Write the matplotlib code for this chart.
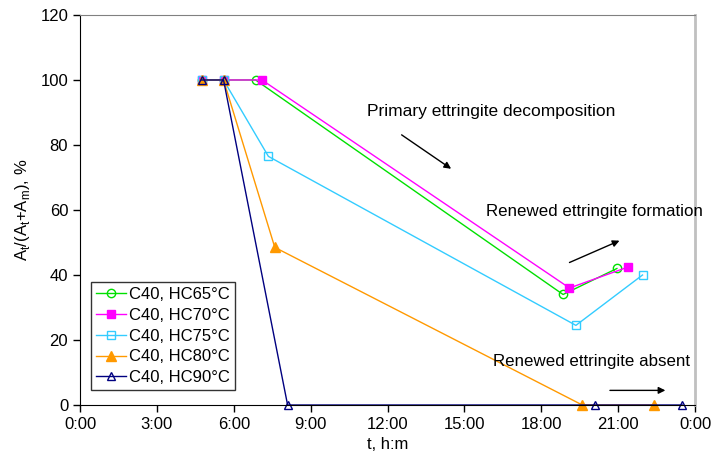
import matplotlib.pyplot as plt
from matplotlib.ticker import FuncFormatter, MultipleLocator

plt.rcParams['font.family'] = ['Liberation Sans', 'DejaVu Sans']

# time in hours, share of ettringite in %
t65 = [4.75, 5.6, 6.85, 18.85, 20.95]
y65 = [100, 100, 100, 34, 42]
t70 = [4.75, 5.6, 7.1, 19.1, 21.4]
y70 = [100, 100, 100, 36, 42.5]
t75 = [4.75, 5.6, 7.35, 19.35, 21.95]
y75 = [100, 100, 76.5, 24.5, 40]
t80 = [4.75, 5.6, 7.6, 19.6, 22.4]
y80 = [100, 100, 48.5, 0, 0]
t90 = [4.75, 5.6, 8.1, 20.1, 23.5]
y90 = [100, 100, 0, 0, 0]

labels = ['C40, HC65°C', 'C40, HC70°C', 'C40, HC75°C', 'C40, HC80°C', 'C40, HC90°C']


def hm(x, pos):
    h = int(round(x)) % 24
    return f'{h}:00'


fig = plt.figure(figsize=(7.12, 4.68), dpi=100)
ax = fig.add_axes([0.1124, 0.1346, 0.8638, 0.8334])

ax.plot(t65, y65, color='#00e000', lw=1, marker='o', ms=6, mfc='none', mec='#00e000', mew=1,
        clip_on=False, label=labels[0])
ax.plot(t70, y70, color='#ff00ff', lw=1, marker='s', ms=6, mfc='#ff00ff', mec='#ff00ff',
        clip_on=False, label=labels[1])
ax.plot(t75, y75, color='#33ccff', lw=1, marker='s', ms=6, mfc='none', mec='#33ccff', mew=1,
        clip_on=False, label=labels[2])
ax.plot(t80, y80, color='#ff9900', lw=1, marker='^', ms=7, mfc='#ff9900', mec='#ff9900',
        clip_on=False, label=labels[3])
ax.plot(t90, y90, color='#000080', lw=1, marker='^', ms=6, mfc='none', mec='#000080', mew=1,
        clip_on=False, label=labels[4])

ax.set_xlim(0, 24)
ax.set_ylim(0, 120)
ax.xaxis.set_major_locator(MultipleLocator(3))
ax.xaxis.set_major_formatter(FuncFormatter(hm))
ax.yaxis.set_major_locator(MultipleLocator(20))
ax.tick_params(labelsize=12, direction='out', length=5, width=1)

ax.spines['top'].set_color('#808080')
ax.spines['right'].set_color('#c0c0c0')
ax.spines['right'].set_linewidth(2)

ax.set_xlabel('t, h:m', fontsize=12)
ax.set_ylabel(r'A$_\mathregular{t}$/(A$_\mathregular{t}$+A$_\mathregular{m}$), %', fontsize=12,
              labelpad=6)

ax.text(11.2, 90.4, 'Primary ettringite decomposition', fontsize=12.5, va='center')
ax.annotate('', xy=(14.57, 72.2), xytext=(12.46, 83.6),
            arrowprops=dict(arrowstyle='-|>', color='black', lw=1, mutation_scale=10))
ax.text(15.85, 59.6, 'Renewed ettringite formation', fontsize=12.2, va='center')
ax.annotate('', xy=(21.15, 50.9), xytext=(19.0, 43.5),
            arrowprops=dict(arrowstyle='-|>', color='black', lw=1, mutation_scale=10))
ax.text(16.1, 13.3, 'Renewed ettringite absent', fontsize=12.2, va='center')
ax.annotate('', xy=(22.95, 4.5), xytext=(20.57, 4.5),
            arrowprops=dict(arrowstyle='-|>', color='black', lw=1, mutation_scale=10))

leg = ax.legend(loc='lower left', bbox_to_anchor=(0.018, 0.038), fontsize=12, frameon=True,
                fancybox=False, edgecolor='black', handlelength=1.8, handletextpad=0.2,
                labelspacing=0.35, borderpad=0.3, borderaxespad=0)
leg.get_frame().set_linewidth(1)

fig.savefig('out.png', dpi=100)
